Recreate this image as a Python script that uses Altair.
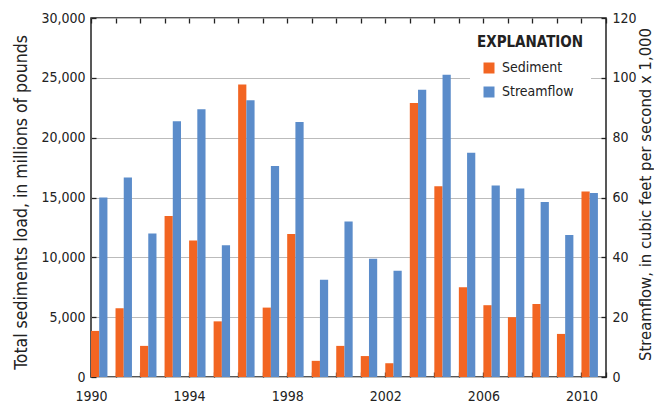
import altair as alt
import pandas as pd

years = list(range(1990, 2011))
sediment = [3850, 5750, 2600, 13450, 11400, 4650, 24450, 5800, 11950, 1350,
            2600, 1750, 1150, 22900, 15950, 7500, 6000, 5000, 6100, 3600, 15500]
streamflow = [60.0, 66.7, 48.0, 85.5, 89.5, 44.0, 92.5, 70.5, 85.2, 32.5,
              52.0, 39.5, 35.5, 96.0, 101.0, 75.0, 64.0, 63.0, 58.5, 47.5, 61.5]
series_names = ["Sediment", "Streamflow"]
colors = ["#F26522", "#5B8CCA"]
left_ticks = [0, 5000, 10000, 15000, 20000, 25000, 30000]
right_ticks = [0, 20, 40, 60, 80, 100, 120]
year_ticks = list(range(1990, 2012))

rows = []
for y, s, f in zip(years, sediment, streamflow):
    rows.append({"year": y, "series": "Sediment", "sed": s, "flow": None, "xs": y, "xe": y + 0.335})
    rows.append({"year": y, "series": "Streamflow", "sed": None, "flow": f, "xs": y + 0.335, "xe": y + 0.67})
df = pd.DataFrame(rows)

FONT = "DejaVu Sans Condensed, sans-serif"

color = alt.Color("series:N", scale=alt.Scale(domain=series_names, range=colors),
                  legend=alt.Legend(title="EXPLANATION", orient="none", legendX=379, legendY=10,
                                    fillColor="white", padding=7, symbolType="square",
                                    symbolSize=121, symbolOffset=5, titleFontSize=15,
                                    titleFontWeight="bold", titleFont=FONT, labelFont=FONT,
                                    labelFontSize=14, labelColor="#222", titleColor="#222",
                                    titlePadding=11, rowPadding=10, labelOffset=6,
                                    symbolStrokeWidth=0))

xscale = alt.Scale(domain=[1990, 2011], nice=False, zero=False)

x_bottom = alt.X("xs:Q", scale=xscale,
                 axis=alt.Axis(orient="bottom", values=year_ticks, format="d",
                               labelExpr="datum.value % 4 == 2 ? datum.label : ''",
                               offset=-5, tickSize=5, domain=False, grid=False,
                               tickColor="#222", tickWidth=1.3, labelPadding=12,
                               labelFontSize=14, labelFont=FONT, labelColor="#222",
                               title=None, labelFlush=False))
x_top = alt.X("xs:Q", scale=xscale,
              axis=alt.Axis(orient="top", values=year_ticks, labels=False,
                            offset=-5, tickSize=5, domain=False, grid=False,
                            tickColor="#222", tickWidth=1.3, title=None))

sed_layer = alt.Chart(df).transform_filter("datum.series == 'Sediment'").mark_bar().encode(
    x=x_bottom, x2="xe:Q",
    y=alt.Y("sed:Q", scale=alt.Scale(domain=[0, 30000], nice=False),
            axis=alt.Axis(orient="left", values=left_ticks, format=",d", offset=-5, tickSize=5,
                          domain=False, grid=True, gridColor="#BBBBBB", gridWidth=1,
                          tickColor="#222", tickWidth=1.3, labelPadding=6,
                          labelFontSize=14, labelFont=FONT, labelColor="#222",
                          title="Total sediments  load, in millions of pounds",
                          titleFont=FONT, titleFontSize=17.5, titleFontWeight="normal",
                          titleColor="#222", titleAngle=270, titleX=-75, titleY=184,
                          titleAlign="center", titleBaseline="middle")),
    y2=alt.datum(0),
    color=color,
)

flow_layer = alt.Chart(df).transform_filter("datum.series == 'Streamflow'").mark_bar().encode(
    x=x_top, x2="xe:Q",
    y=alt.Y("flow:Q", scale=alt.Scale(domain=[0, 120], nice=False),
            axis=alt.Axis(orient="right", values=right_ticks, format="d", offset=-5, tickSize=5,
                          domain=False, grid=False,
                          tickColor="#222", tickWidth=1.3, labelPadding=6,
                          labelFontSize=14, labelFont=FONT, labelColor="#222",
                          title="Streamflow, in cubic feet per second x 1,000",
                          titleFont=FONT, titleFontSize=16.5, titleFontWeight="normal",
                          titleColor="#222", titleAngle=270, titleX=44, titleY=176,
                          titleAlign="center", titleBaseline="middle")),
    y2=alt.datum(0),
    color=color,
)

chart = alt.layer(sed_layer, flow_layer).resolve_scale(y="independent").resolve_axis(
    x="independent", y="independent"
).properties(
    width=515, height=359,
    padding={"left": 83, "top": 10, "right": 48, "bottom": 25},
    autosize=alt.AutoSizeParams(type="none"),
).configure_view(stroke="#222", strokeWidth=1.5)

chart.save("out.html", embed_options={"renderer": "svg", "actions": False})
